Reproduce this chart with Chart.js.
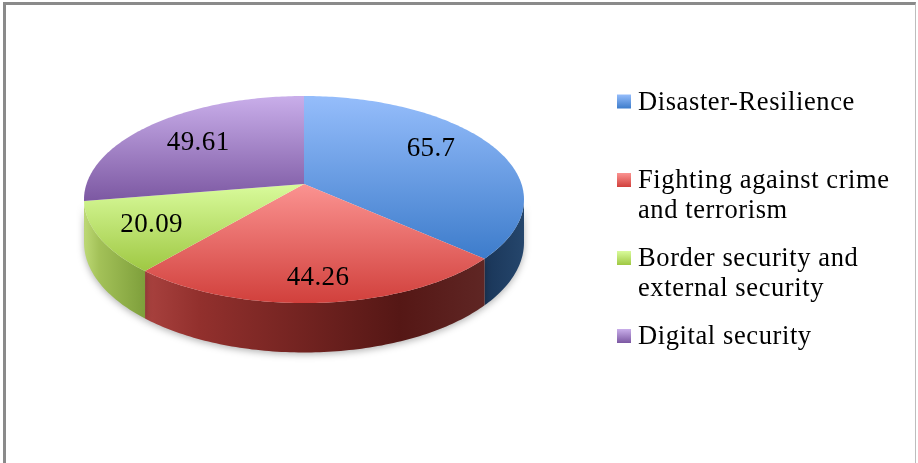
<!DOCTYPE html>
<html>
<head>
<meta charset="utf-8">
<style>
  html, body { margin: 0; padding: 0; background: #fff; overflow: hidden; }
  #wrap { position: relative; width: 918px; height: 463px; }
  #frame { position: absolute; left: 3px; top: 2px; width: 913px; height: 470px; border-left: 3px solid #8a8a8a; border-top: 3px solid #8a8a8a; border-right: 1px solid #bdbdbd; box-sizing: border-box; }
  canvas { position: absolute; left: 0; top: 0; }
</style>
</head>
<body>
<div id="wrap">
  <div id="frame"></div>
  <canvas id="pie" width="918" height="463"></canvas>
</div>
<script src="https://cdn.jsdelivr.net/npm/chart.js@4"></script>
<script>
// データ
const categories = [
  "Disaster-Resilience",
  ["Fighting against crime", "and terrorism"],
  ["Border security and", "external security"],
  "Digital security",
];
const values = [65.7, 44.26, 20.09, 49.61];
const sliceColors = ["#4f81bd", "#c0504d", "#9bbb59", "#8064a2"];

// 上面のグラデーション(上→下)
const topShades = [
  ["#95bdfb", "#3d7ccb"],
  ["#fb9391", "#d1403c"],
  ["#d9fb9c", "#9fc843"],
  ["#c9aeea", "#7c58a2"],
];
// 側面のグラデーション(左→右)
const sideShades = [
  [[0, "#1a3659"], [1, "#25466c"]],
  [[0, "#a9423f"], [0.16, "#92302d"], [0.75, "#551715"], [1, "#5f2624"]],
  [[0, "#bdd975"], [0.25, "#a3c158"], [1, "#7e9f3b"]],
  [[0, "#5f4a7a"], [1, "#5f4a7a"]],
];

const serif = '"Liberation Serif", serif';

// 遠近法つきの3D円グラフ: Chart.js の arc の角度を投影して描く
const pie3d = {
  id: "pie3d",
  beforeDatasetsDraw(chart, args, opts) {
    const ctx = chart.ctx;
    const arcs = chart.getDatasetMeta(0).data;

    const project = (angle, r) => {
      const x = Math.cos(angle) * r;
      const y = Math.sin(angle) * r;
      const w = 1 - opts.tilt * y;
      return { x: opts.cx + (x / w) * opts.sx, y: opts.cy + (y / w) * opts.sy, w };
    };
    const rimAngles = (from, to) => {
      const list = [];
      const n = Math.max(2, Math.ceil((to - from) * 60));
      for (let i = 0; i <= n; i++) list.push(from + ((to - from) * i) / n);
      return list;
    };

    // 側面(手前側だけ)
    const limit = Math.asin(opts.tilt);
    ctx.save();
    ctx.shadowColor = "rgba(0,0,0,0.3)";
    ctx.shadowBlur = 7;
    ctx.shadowOffsetY = 2;
    arcs.forEach((arc, i) => {
      const from = Math.max(arc.startAngle, limit);
      const to = Math.min(arc.endAngle, Math.PI - limit);
      if (to <= from) return;
      const rim = rimAngles(from, to).map((a) => project(a, 1));
      const grad = ctx.createLinearGradient(
        Math.min(rim[0].x, rim[rim.length - 1].x), 0,
        Math.max(rim[0].x, rim[rim.length - 1].x), 0
      );
      sideShades[i].forEach((s) => grad.addColorStop(s[0], s[1]));
      ctx.beginPath();
      rim.forEach((p, k) => (k ? ctx.lineTo(p.x, p.y) : ctx.moveTo(p.x, p.y)));
      rim.slice().reverse().forEach((p) => ctx.lineTo(p.x, p.y + opts.depth / p.w));
      ctx.closePath();
      ctx.fillStyle = grad;
      ctx.fill();
    });
    ctx.restore();

    // 上面
    arcs.forEach((arc, i) => {
      const rim = rimAngles(arc.startAngle, arc.endAngle).map((a) => project(a, 1));
      const ys = rim.map((p) => p.y).concat(opts.cy);
      const grad = ctx.createLinearGradient(0, Math.min(...ys), 0, Math.max(...ys));
      grad.addColorStop(0, topShades[i][0]);
      grad.addColorStop(1, topShades[i][1]);
      ctx.beginPath();
      ctx.moveTo(opts.cx, opts.cy);
      rim.forEach((p) => ctx.lineTo(p.x, p.y));
      ctx.closePath();
      ctx.fillStyle = grad;
      ctx.fill();
    });

    // 値ラベル
    ctx.save();
    ctx.font = "27px " + serif;
    ctx.letterSpacing = "0.4px";
    ctx.fillStyle = "#000";
    ctx.textAlign = "center";
    ctx.textBaseline = "middle";
    arcs.forEach((arc, i) => {
      const mid = (arc.startAngle + arc.endAngle) / 2 + opts.labelTurn[i];
      const p = project(mid, opts.labelRadius[i]);
      ctx.fillText(String(values[i]), p.x, p.y + 1);
    });
    ctx.restore();
    return false;
  },
};

// 凡例
const sideLegend = {
  id: "sideLegend",
  afterDraw(chart, args, opts) {
    const ctx = chart.ctx;
    ctx.save();
    ctx.font = "26.5px " + serif;
    ctx.letterSpacing = opts.spacing + "px";
    ctx.fillStyle = "#000";
    ctx.textBaseline = "middle";
    categories.forEach((label, i) => {
      const y = opts.rows[i];
      const grad = ctx.createLinearGradient(0, y - 7, 0, y + 7);
      grad.addColorStop(0, topShades[i][0]);
      grad.addColorStop(1, topShades[i][1]);
      ctx.fillStyle = grad;
      ctx.fillRect(opts.x, y - 7, 14, 14);
      ctx.fillStyle = "#000";
      [].concat(label).forEach((line, k) => {
        ctx.fillText(line, opts.x + 21, y + 1.5 + k * opts.lineHeight);
      });
    });
    ctx.restore();
  },
};

new Chart(document.getElementById("pie"), {
  type: "pie",
  data: {
    labels: categories,
    datasets: [{ data: values, backgroundColor: sliceColors, borderWidth: 0 }],
  },
  options: {
    responsive: false,
    animation: false,
    events: [],
    plugins: {
      legend: { display: false },
      tooltip: { enabled: false },
      pie3d: {
        cx: 304,
        cy: 184,
        sx: 217.5,
        sy: 101.2,
        tilt: 0.15,
        depth: 42,
        labelRadius: [0.72, 0.81, 0.76, 0.68],
        labelTurn: [-0.12, 0, 0, 0],
      },
      sideLegend: { x: 617, rows: [101.5, 180, 258, 336], lineHeight: 30, spacing: 0.6 },
    },
  },
  plugins: [pie3d, sideLegend],
});
</script>
</body>
</html>
